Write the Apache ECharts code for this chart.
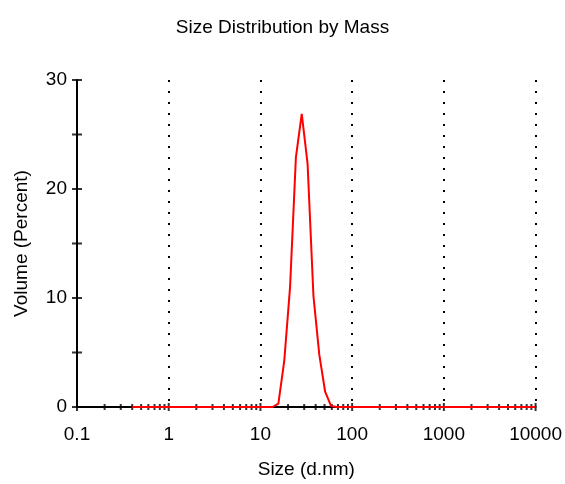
<!DOCTYPE html>
<html>
<head>
<meta charset="utf-8">
<script src="https://cdn.jsdelivr.net/npm/echarts@6/dist/echarts.min.js"></script>
<style>html,body{margin:0;padding:0;background:#fff}#c{width:565px;height:484px}</style>
</head>
<body>
<div id="c"></div>
<script>
const titleText = 'Size Distribution by Mass';
const xName = 'Size (d.nm)';
const yName = 'Volume (Percent)';
const sizes = [0.4, 0.4632, 0.5365, 0.6213, 0.7195, 0.8332, 0.9649, 1.117, 1.294, 1.499, 1.736, 2.01, 2.328, 2.696, 3.122, 3.615, 4.187, 4.849, 5.615, 6.503, 7.531, 8.721, 10.1, 11.7, 13.54, 15.69, 18.17, 21.04, 24.36, 28.21, 32.67, 37.84, 43.82, 50.75, 58.77, 68.06, 78.82, 91.28, 105.7, 122.4, 141.8, 164.2, 190.1, 220.2, 255, 295.3, 342, 396.1, 458.7, 531.2, 615.1, 712.4, 825, 955.4, 1106, 1281, 1484, 1718, 1990, 2305, 2669, 3091, 3580, 4145, 4801, 5560, 6439, 7456, 8635, 10000];
const volume = [0, 0, 0, 0, 0, 0, 0, 0, 0, 0, 0, 0, 0, 0, 0, 0, 0, 0, 0, 0, 0, 0, 0, 0, 0,
  0.3, 4.2, 11.0, 22.9, 26.9, 22.3, 10.2, 4.8, 1.4, 0.1,
  0, 0, 0, 0, 0, 0, 0, 0, 0, 0, 0, 0, 0, 0, 0, 0, 0, 0, 0, 0, 0, 0, 0, 0, 0, 0, 0, 0, 0, 0, 0, 0, 0, 0, 0];
const xMajorTicks = [0.1, 1, 10, 100, 1000, 10000];
const xMinorTicks = [0.2,0.3,0.4,0.5,0.6,0.7,0.8,0.9, 2,3,4,5,6,7,8,9, 20,30,40,50,60,70,80,90, 200,300,400,500,600,700,800,900, 2000,3000,4000,5000,6000,7000,8000,9000];
const yTicks = [0, 5, 10, 15, 20, 25, 30];

const FONT = "'Liberation Sans', Arial, sans-serif";
const chart = echarts.init(document.getElementById('c'), null, {renderer: 'canvas'});
chart.setOption({
  animation: false,
  backgroundColor: '#fff',
  title: {
    text: titleText, left: 'center', top: 13,
    textStyle: {fontFamily: FONT, fontSize: 19, fontWeight: 'normal', color: '#000'}
  },
  grid: {left: 77, right: 28, top: 80, bottom: 73, containLabel: false},
  xAxis: {
    type: 'log', logBase: 10, min: 0.1, max: 10000,
    name: xName, nameLocation: 'middle', nameGap: 53,
    nameTextStyle: {fontFamily: FONT, fontSize: 19, color: '#000'},
    axisLine: {lineStyle: {color: '#000', width: 2}},
    axisTick: {show: false},
    minorTick: {show: false},
    axisLabel: {
      fontFamily: FONT, fontSize: 19, color: '#000', margin: 18,
      formatter: v => String(+Number(v).toPrecision(6))
    },
    splitLine: {show: true, lineStyle: {color: '#000', width: 2, type: [2, 9]}}
  },
  yAxis: {
    type: 'value', min: 0, max: 30, interval: 10,
    name: yName, nameLocation: 'middle', nameGap: 46,
    nameTextStyle: {fontFamily: FONT, fontSize: 19, color: '#000'},
    axisLine: {show: true, lineStyle: {color: '#000', width: 2}},
    axisTick: {show: false},
    axisLabel: {fontFamily: FONT, fontSize: 19, color: '#000', margin: 10},
    splitLine: {show: false}
  },
  series: [
    {
      type: 'scatter', z: 1, silent: true,
      symbol: 'rect', symbolSize: [2, 6],
      itemStyle: {color: '#000'},
      clip: false,
      data: xMinorTicks.map(v => [v, 0])
    },
    {
      type: 'scatter', z: 1, silent: true,
      symbol: 'rect', symbolSize: [2, 8],
      itemStyle: {color: '#000'},
      clip: false,
      data: xMajorTicks.map(v => [v, 0])
    },
    {
      type: 'scatter', z: 1, silent: true,
      symbol: 'rect', symbolSize: [10, 2],
      itemStyle: {color: '#000'},
      clip: false,
      data: yTicks.map(v => [0.1, v])
    },
    {
      type: 'line', z: 3, silent: true,
      showSymbol: false, symbol: 'none',
      lineStyle: {color: '#ff0000', width: 2},
      data: sizes.map((s, i) => [s, volume[i]])
    }
  ]
});
</script>
</body>
</html>
